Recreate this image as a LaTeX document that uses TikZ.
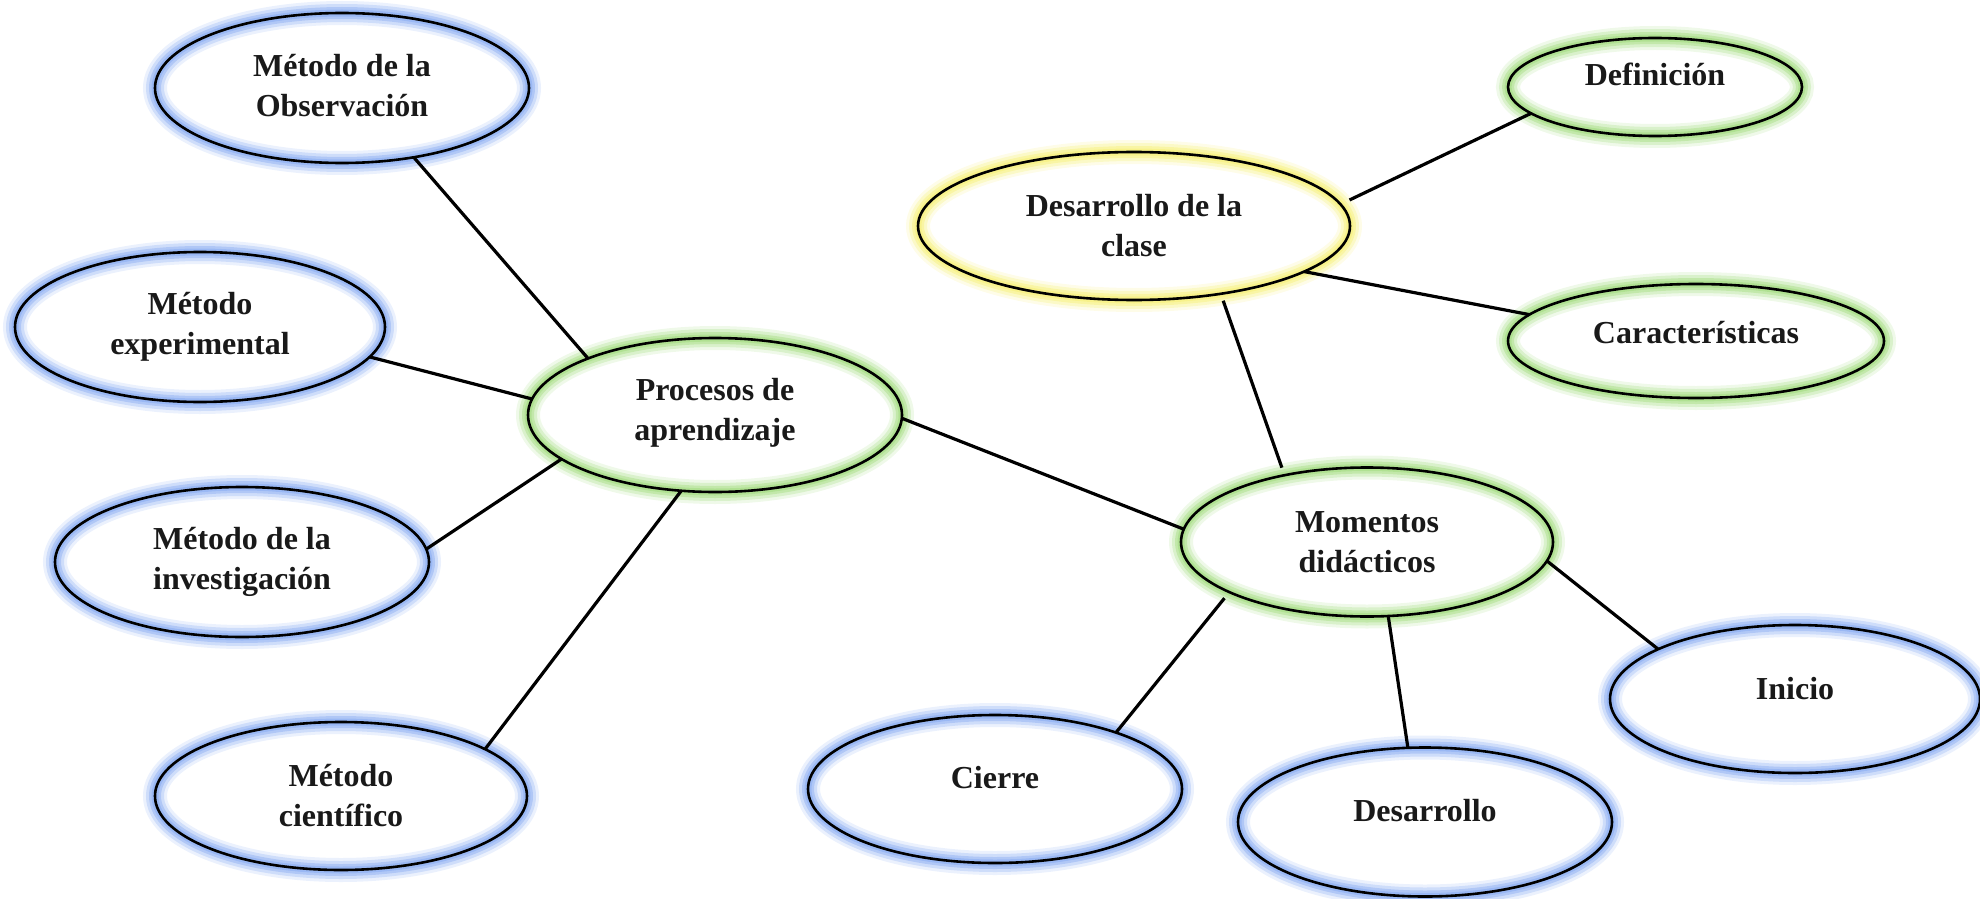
\documentclass[tikz,border=0pt]{standalone}
\usepackage{fontspec}
\setmainfont{Liberation Serif}
\usetikzlibrary{shapes.geometric}
\definecolor{glowblue}{RGB}{120,160,240}
\definecolor{glowgreen}{RGB}{150,215,110}
\definecolor{glowyellow}{RGB}{245,238,100}
\tikzset{
  ell/.style={ellipse, draw=black, line width=1.3pt, inner sep=0pt, outer sep=0pt},
  glow/.style={ell,
    preaction={draw=#1, line width=12pt, opacity=0.15},
    preaction={draw=#1, line width=9pt, opacity=0.25},
    preaction={draw=#1, line width=6pt, opacity=0.35},
    preaction={draw=#1, line width=3.5pt, opacity=0.4}},
  bell/.style={glow=glowblue},
  gell/.style={glow=glowgreen},
  yell/.style={glow=glowyellow},
  txt/.style={font=\fontsize{16}{20}\selectfont\bfseries, align=center, inner sep=0pt, text=black!90},
  conn/.style={draw=black, line width=1.6pt}
}
\begin{document}
\begin{tikzpicture}[x=0.5pt, y=-0.5pt]
\useasboundingbox (0,0) rectangle (1980,899);
% ellipses
\node[bell, minimum width=187pt, minimum height=75pt] (obs) at (342,88) {};
\node[bell, minimum width=185pt, minimum height=75pt] (exp) at (200,327) {};
\node[bell, minimum width=187pt, minimum height=75pt] (inv) at (242,562) {};
\node[bell, minimum width=186pt, minimum height=74pt] (cie) at (341,796) {};
\node[gell, minimum width=187pt, minimum height=77pt] (proc) at (715,415) {};
\node[yell, minimum width=216pt, minimum height=74pt] (clase) at (1134,226) {};
\node[gell, minimum width=147pt, minimum height=49pt] (def) at (1655,87) {};
\node[gell, minimum width=188pt, minimum height=57pt] (car) at (1696,341) {};
\node[gell, minimum width=186pt, minimum height=74.5pt] (mom) at (1367,542) {};
\node[bell, minimum width=185pt, minimum height=74pt] (ini) at (1795,699) {};
\node[bell, minimum width=187pt, minimum height=74pt] (cier) at (995,789) {};
\node[bell, minimum width=187pt, minimum height=74.5pt] (des) at (1425,822) {};
% texts
\node[txt] (obs-t) at ([yshift=1pt]obs.center) {Método de la\\Observación};
\node[txt] (exp-t) at (exp.center) {Método\\experimental};
\node[txt] (inv-t) at (inv.center) {Método de la\\investigación};
\node[txt] (cie-t) at (cie.center) {Método\\científico};
\node[txt] (proc-t) at ([yshift=1pt]proc.center) {Procesos de\\aprendizaje};
\node[txt] (clase-t) at (clase.center) {Desarrollo de la\\clase};
\node[txt] (def-t) at ([yshift=6.5pt]def.center) {Definición};
\node[txt] (car-t) at ([yshift=4pt]car.center) {Características};
\node[txt] (mom-t) at (mom.center) {Momentos\\didácticos};
\node[txt] (ini-t) at ([yshift=5pt]ini.center) {Inicio};
\node[txt] (cier-t) at ([yshift=5.5pt]cier.center) {Cierre};
\node[txt] (des-t) at ([yshift=5.5pt]des.center) {Desarrollo};
% connectors
\draw[conn] (obs.-44) -- (proc.156);
\draw[conn] (exp.-10) -- (proc.175);
\draw[conn] (inv.4) -- (proc.-164);
\draw[conn] (cie.18) -- (proc.-114);
\draw[conn] (proc.-1) -- (mom.176.3);
\draw[conn, shorten <=5pt] (clase.6) -- (def.-168);
\draw[conn] (clase.-15) -- (car.171);
\draw[conn, shorten <=3.7pt, shorten >=4pt] (clase.-38.5) -- (mom.141.6);
\draw[conn] (mom.-6.5) -- (ini.160.4);
\draw[conn] (mom.-74.4) -- (des.103.5);
\draw[conn, shorten <=3.9pt] (mom.-160.8) -- (cier.25.5);
\end{tikzpicture}
\end{document}
